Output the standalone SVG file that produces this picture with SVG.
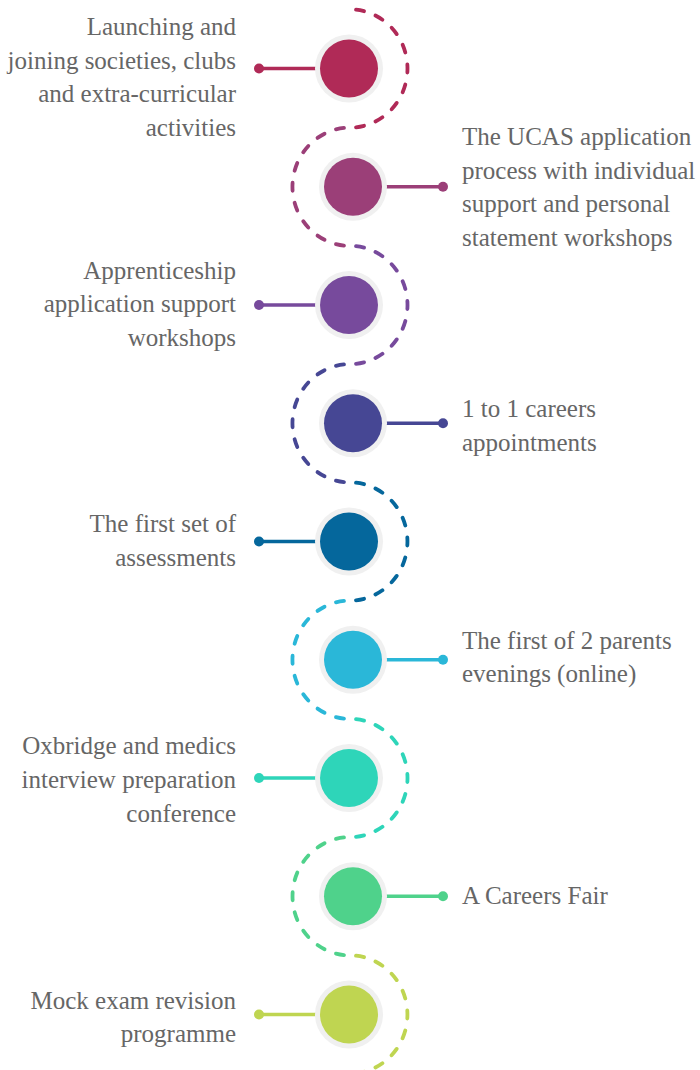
<svg xmlns="http://www.w3.org/2000/svg" width="700" height="1070" viewBox="0 0 700 1070">
<style>
.t{font-family:"Liberation Serif","Times New Roman",serif;font-size:25px;fill:#666666}
.l{text-anchor:end}
.r{text-anchor:start}
.arc{fill:none;stroke-width:3.8;stroke-linecap:round;stroke-dasharray:8 12;stroke-dashoffset:14}
.ln{stroke-width:3.4;fill:none}
.halo{fill:#f0f0f0}
</style>
<rect width="700" height="1070" fill="#ffffff"/>
<g id="connectors">
<path class="arc" pathLength="180" stroke="#b02a57" d="M350 9.4 A57.5 59.1 0 0 1 350 127.6"/>
<path class="arc" pathLength="180" stroke="#9b3f78" d="M350 127.6 A57.5 59.1 0 0 0 350 245.9"/>
<path class="arc" pathLength="180" stroke="#774a9c" d="M350 245.9 A57.5 59.1 0 0 1 350 364.1"/>
<path class="arc" pathLength="180" stroke="#464794" d="M350 364.1 A57.5 59.1 0 0 0 350 482.4"/>
<path class="arc" pathLength="180" stroke="#05679c" d="M350 482.4 A57.5 59.1 0 0 1 350 600.6"/>
<path class="arc" pathLength="180" stroke="#2ab7d8" d="M350 600.6 A57.5 59.1 0 0 0 350 718.9"/>
<path class="arc" pathLength="180" stroke="#2ed5b9" d="M350 718.9 A57.5 59.1 0 0 1 350 837.1"/>
<path class="arc" pathLength="180" stroke="#4fd28b" d="M350 837.1 A57.5 59.1 0 0 0 350 955.4"/>
<path class="arc" pathLength="180" stroke="#bfd551" d="M350 955.4 A57.5 59.1 0 0 1 350 1073.6"/>
</g>
<g id="node1">
<line class="ln" stroke="#b02a57" x1="259" y1="68.5" x2="330" y2="68.5"/>
<circle cx="259" cy="68.5" r="5" fill="#b02a57"/>
<circle class="halo" cx="349" cy="68.5" r="34"/>
<circle cx="349" cy="68.5" r="29" fill="#b02a57"/>
<text class="t l" x="236" y="35">Launching and</text>
<text class="t l" x="236" y="68.5">joining societies, clubs</text>
<text class="t l" x="236" y="102">and extra-curricular</text>
<text class="t l" x="236" y="135.5">activities</text>
</g>
<g id="node2">
<line class="ln" stroke="#9b3f78" x1="372" y1="186.8" x2="443" y2="186.8"/>
<circle cx="443" cy="186.8" r="5" fill="#9b3f78"/>
<circle class="halo" cx="353" cy="186.8" r="34"/>
<circle cx="353" cy="186.8" r="29" fill="#9b3f78"/>
<text class="t r" x="462" y="145">The UCAS application</text>
<text class="t r" x="462" y="178.5">process with individual</text>
<text class="t r" x="462" y="212">support and personal</text>
<text class="t r" x="462" y="245.5">statement workshops</text>
</g>
<g id="node3">
<line class="ln" stroke="#774a9c" x1="259" y1="305" x2="330" y2="305"/>
<circle cx="259" cy="305" r="5" fill="#774a9c"/>
<circle class="halo" cx="349" cy="305" r="34"/>
<circle cx="349" cy="305" r="29" fill="#774a9c"/>
<text class="t l" x="236" y="278.5">Apprenticeship</text>
<text class="t l" x="236" y="312">application support</text>
<text class="t l" x="236" y="345.5">workshops</text>
</g>
<g id="node4">
<line class="ln" stroke="#464794" x1="372" y1="423.3" x2="443" y2="423.3"/>
<circle cx="443" cy="423.3" r="5" fill="#464794"/>
<circle class="halo" cx="353" cy="423.3" r="34"/>
<circle cx="353" cy="423.3" r="29" fill="#464794"/>
<text class="t r" x="462" y="417">1 to 1 careers</text>
<text class="t r" x="462" y="450.5">appointments</text>
</g>
<g id="node5">
<line class="ln" stroke="#05679c" x1="259" y1="541.5" x2="330" y2="541.5"/>
<circle cx="259" cy="541.5" r="5" fill="#05679c"/>
<circle class="halo" cx="349" cy="541.5" r="34"/>
<circle cx="349" cy="541.5" r="29" fill="#05679c"/>
<text class="t l" x="236" y="532">The first set of</text>
<text class="t l" x="236" y="565.5">assessments</text>
</g>
<g id="node6">
<line class="ln" stroke="#2ab7d8" x1="372" y1="659.8" x2="443" y2="659.8"/>
<circle cx="443" cy="659.8" r="5" fill="#2ab7d8"/>
<circle class="halo" cx="353" cy="659.8" r="34"/>
<circle cx="353" cy="659.8" r="29" fill="#2ab7d8"/>
<text class="t r" x="462" y="648.5">The first of 2 parents</text>
<text class="t r" x="462" y="682">evenings (online)</text>
</g>
<g id="node7">
<line class="ln" stroke="#2ed5b9" x1="259" y1="778" x2="330" y2="778"/>
<circle cx="259" cy="778" r="5" fill="#2ed5b9"/>
<circle class="halo" cx="349" cy="778" r="34"/>
<circle cx="349" cy="778" r="29" fill="#2ed5b9"/>
<text class="t l" x="236" y="754">Oxbridge and medics</text>
<text class="t l" x="236" y="788">interview preparation</text>
<text class="t l" x="236" y="821.5">conference</text>
</g>
<g id="node8">
<line class="ln" stroke="#4fd28b" x1="372" y1="896.3" x2="443" y2="896.3"/>
<circle cx="443" cy="896.3" r="5" fill="#4fd28b"/>
<circle class="halo" cx="353" cy="896.3" r="34"/>
<circle cx="353" cy="896.3" r="29" fill="#4fd28b"/>
<text class="t r" x="462" y="904">A Careers Fair</text>
</g>
<g id="node9">
<line class="ln" stroke="#bfd551" x1="259" y1="1014.5" x2="330" y2="1014.5"/>
<circle cx="259" cy="1014.5" r="5" fill="#bfd551"/>
<circle class="halo" cx="349" cy="1014.5" r="34"/>
<circle cx="349" cy="1014.5" r="29" fill="#bfd551"/>
<text class="t l" x="236" y="1008.5">Mock exam revision</text>
<text class="t l" x="236" y="1042">programme</text>
</g>
</svg>
